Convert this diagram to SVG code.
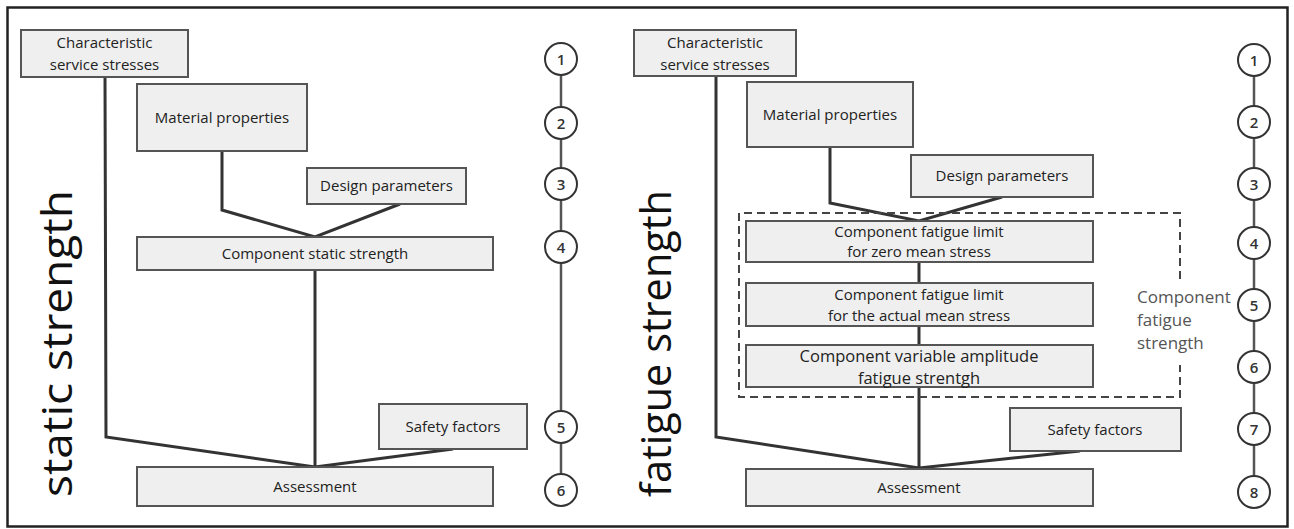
<svg xmlns="http://www.w3.org/2000/svg" width="1294" height="529" viewBox="0 0 1294 529">
<style>
.box{fill:#efefef;stroke:#555;stroke-width:2}
.t{font-family:"Open Sans","Liberation Sans",sans-serif;font-size:15px;fill:#222;text-anchor:middle}
.con{fill:none;stroke:#333;stroke-width:3;stroke-linejoin:miter}
.num{fill:#fff;stroke:#333;stroke-width:2}
.nt{font-family:"Open Sans","Liberation Sans",sans-serif;font-size:15px;font-weight:600;fill:#333;text-anchor:middle}
.big{font-family:"Open Sans","Liberation Sans",sans-serif;font-size:42px;fill:#111}
.lab{font-family:"Open Sans","Liberation Sans",sans-serif;font-size:17px;fill:#555}
</style>
<rect x="0" y="0" width="1294" height="529" fill="#fff"/>
<rect x="7.5" y="7.5" width="1280" height="519" fill="none" stroke="#222" stroke-width="2.5"/>

<g id="connectors">
  <polyline class="con" points="105,77 106,437 315,467"/>
  <polyline class="con" points="222,151 222,210 315,237 400,204"/>
  <line class="con" x1="315" y1="270" x2="315" y2="467"/>
  <line class="con" x1="453" y1="449" x2="315" y2="467"/>
  <line x1="561" y1="59" x2="561" y2="490" stroke="#555" stroke-width="2.5"/>

  <polyline class="con" points="716,76 716,437 919,468"/>
  <polyline class="con" points="830,147 830,203 919,221 1002,197"/>
  <line class="con" x1="919" y1="262" x2="919" y2="283"/>
  <line class="con" x1="919" y1="326" x2="919" y2="345"/>
  <line class="con" x1="919" y1="387" x2="919" y2="468"/>
  <line class="con" x1="1080" y1="451" x2="919" y2="468"/>
  <line x1="1254" y1="60" x2="1254" y2="492" stroke="#555" stroke-width="2.5"/>
  <path d="M1180,279 V213 H739 V397 H1180 V365" fill="none" stroke="#444" stroke-width="2" stroke-dasharray="8,5"/>
</g>

<text class="big" transform="translate(72,497) rotate(-90)" textLength="307" lengthAdjust="spacingAndGlyphs">static strength</text>
<text class="big" transform="translate(671,497) rotate(-90)" textLength="307" lengthAdjust="spacingAndGlyphs">fatigue strength</text>

<g id="l-char"><rect class="box" x="21" y="30" width="167" height="47"/><text class="t" x="104.5" y="48">Characteristic</text><text class="t" x="104.5" y="70">service stresses</text></g>
<g id="l-mat"><rect class="box" x="137" y="84" width="170" height="67"/><text class="t" x="222" y="123">Material properties</text></g>
<g id="l-design"><rect class="box" x="307" y="168" width="159" height="36"/><text class="t" x="386.5" y="191">Design parameters</text></g>
<g id="l-comp"><rect class="box" x="137" y="237" width="356" height="33"/><text class="t" x="315" y="259">Component static strength</text></g>
<g id="l-safety"><rect class="box" x="379" y="404" width="148" height="45"/><text class="t" x="453" y="432">Safety factors</text></g>
<g id="l-assess"><rect class="box" x="137" y="467" width="356" height="39"/><text class="t" x="315" y="492">Assessment</text></g>

<g id="l-steps">
  <circle class="num" cx="561" cy="59" r="16"/><text class="nt" x="561" y="64.5">1</text>
  <circle class="num" cx="561" cy="123" r="16"/><text class="nt" x="561" y="128.5">2</text>
  <circle class="num" cx="561" cy="184" r="16"/><text class="nt" x="561" y="189.5">3</text>
  <circle class="num" cx="561" cy="247" r="16"/><text class="nt" x="561" y="252.5">4</text>
  <circle class="num" cx="561" cy="427" r="16"/><text class="nt" x="561" y="432.5">5</text>
  <circle class="num" cx="561" cy="490" r="16"/><text class="nt" x="561" y="495.5">6</text>
</g>

<g id="r-char"><rect class="box" x="634" y="30" width="162" height="46"/><text class="t" x="715" y="48">Characteristic</text><text class="t" x="715" y="70">service stresses</text></g>
<g id="r-mat"><rect class="box" x="747" y="82" width="166" height="65"/><text class="t" x="830" y="120">Material properties</text></g>
<g id="r-design"><rect class="box" x="911" y="155" width="182" height="42"/><text class="t" x="1002" y="181">Design parameters</text></g>
<g id="r-c1"><rect class="box" x="746" y="221" width="347" height="41"/><text class="t" x="919" y="237">Component fatigue limit</text><text class="t" x="919" y="257">for zero mean stress</text></g>
<g id="r-c2"><rect class="box" x="746" y="283" width="347" height="43"/><text class="t" x="919" y="300">Component fatigue limit</text><text class="t" x="919" y="321">for the actual mean stress</text></g>
<g id="r-c3"><rect class="box" x="746" y="345" width="347" height="42"/><text class="t" x="919" y="362" style="font-size:16.5px">Component variable amplitude</text><text class="t" x="919" y="384" style="font-size:16.5px">fatigue strentgh</text></g>
<g id="r-label"><text class="lab" x="1137" y="303">Component</text><text class="lab" x="1137" y="326">fatigue</text><text class="lab" x="1137" y="349">strength</text></g>
<g id="r-safety"><rect class="box" x="1010" y="408" width="171" height="43"/><text class="t" x="1095" y="435">Safety factors</text></g>
<g id="r-assess"><rect class="box" x="746" y="469" width="347" height="37"/><text class="t" x="919" y="493">Assessment</text></g>

<g id="r-steps">
  <circle class="num" cx="1254" cy="60" r="16"/><text class="nt" x="1254" y="65.5">1</text>
  <circle class="num" cx="1254" cy="122" r="16"/><text class="nt" x="1254" y="127.5">2</text>
  <circle class="num" cx="1254" cy="184" r="16"/><text class="nt" x="1254" y="189.5">3</text>
  <circle class="num" cx="1254" cy="243" r="16"/><text class="nt" x="1254" y="248.5">4</text>
  <circle class="num" cx="1254" cy="305" r="16"/><text class="nt" x="1254" y="310.5">5</text>
  <circle class="num" cx="1254" cy="367" r="16"/><text class="nt" x="1254" y="372.5">6</text>
  <circle class="num" cx="1254" cy="429" r="16"/><text class="nt" x="1254" y="434.5">7</text>
  <circle class="num" cx="1254" cy="492" r="16"/><text class="nt" x="1254" y="497.5">8</text>
</g>
</svg>
